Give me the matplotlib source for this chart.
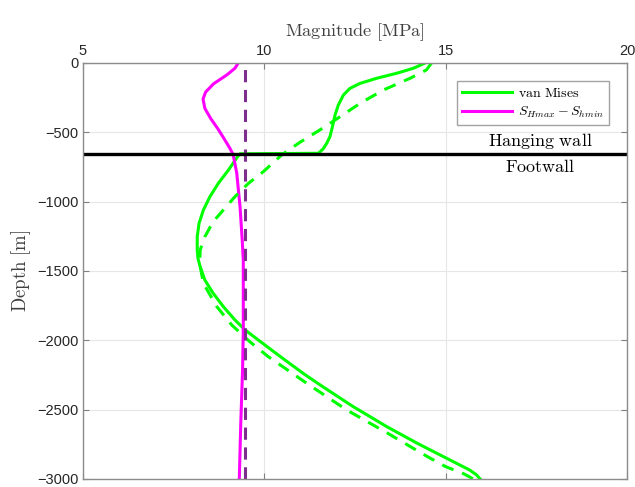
import matplotlib.pyplot as plt
import numpy as np

plt.rcParams['mathtext.fontset'] = 'cm'
plt.rcParams['font.family'] = ['Liberation Sans', 'DejaVu Sans']

# van Mises, solid (with the jump at the interface)
vm_depth = [0, -38, -74, -110, -147, -183, -231, -303, -375, -435, -531, -579, -620, -651,
            -655, -676, -772, -868, -964, -1060, -1156, -1253, -1349, -1408,
            -1469, -1565, -1661, -1757, -1853, -1925, -1997, -2070, -2142,
            -2240, -2329, -2478, -2623, -2743, -2863, -2935, -2970, -3000]
vm_mag = [14.43, 14.11, 13.65, 13.10, 12.64, 12.36, 12.18, 12.04, 11.95, 11.90, 11.81, 11.72, 11.62, 11.49,
          9.33, 9.26, 9.01, 8.73, 8.50, 8.32, 8.20, 8.15, 8.15, 8.17,
          8.23, 8.36, 8.59, 8.87, 9.19, 9.47, 9.83, 10.20, 10.57,
          11.08, 11.58, 12.45, 13.38, 14.22, 15.12, 15.66, 15.85, 15.95]

# van Mises, dashed
vm2_depth = [0, -50, -110, -195, -291, -387, -483, -572, -663, -784, -868,
             -964, -1060, -1144, -1253, -1349, -1450, -1589, -1757, -1889,
             -2010, -2118, -2310, -2502, -2670, -2839, -2911, -2960, -2985, -3000]
vm2_mag = [14.61, 14.47, 14.02, 13.28, 12.64, 12.09, 11.53, 10.98, 10.48, 9.97, 9.56,
           9.19, 8.87, 8.59, 8.36, 8.23, 8.22, 8.32, 8.69, 9.10,
           9.60, 10.11, 11.17, 12.27, 13.40, 14.50, 15.00, 15.48, 15.66, 15.76]

# SHmax - Shmin
ds_depth = [0, -38, -87, -150, -210, -260, -327, -400, -475, -550, -615, -660,
            -795, -1036, -1276, -1421, -1650, -1925, -2214, -2600, -3000]
ds_mag = [9.28, 9.19, 8.96, 8.60, 8.38, 8.31, 8.36, 8.52, 8.72, 8.90, 9.05, 9.14,
          9.24, 9.33, 9.39, 9.42, 9.42, 9.42, 9.40, 9.35, 9.31]

ds_const = 9.47
interface = -658

fig = plt.figure(figsize=(6.35, 4.87), dpi=100)
ax = fig.add_axes([83/635, 1-479/487, 544/635, 416/487])

ax.plot(vm_mag, vm_depth, color='#00ff00', lw=2.2, label=r'$\mathrm{van\ Mises}$')
ax.plot(ds_mag, ds_depth, color='#ff00ff', lw=2.2, label=r'$S_{Hmax}-S_{hmin}$')
ax.plot(vm2_mag, vm2_depth, color='#00ff00', lw=2.2, ls=(0, (4, 3)))
ax.axvline(ds_const, color='#7e2f8e', lw=2.2, ls=(0, (4, 2.5)))
ax.axhline(interface, color='black', lw=2.4)

ax.text(17.6, -562, r'$\mathrm{Hanging\ wall}$', ha='center', va='center', fontsize=13)
ax.text(17.6, -752, r'$\mathrm{Footwall}$', ha='center', va='center', fontsize=13)

ax.set_xlim(5, 20)
ax.set_ylim(-3000, 0)
ax.set_xticks([5, 10, 15, 20])
ax.set_yticks(np.arange(-3000, 1, 500))
ax.xaxis.tick_top()
ax.xaxis.set_label_position('top')
ax.set_xlabel(r'$\mathrm{Magnitude\ [MPa]}$', fontsize=13.2, labelpad=6, color='#404040')
ax.set_ylabel(r'$\mathrm{Depth\ [m]}$', fontsize=13.5, labelpad=3, color='#404040')
ax.tick_params(direction='in', labelsize=10.5, labelcolor='#262626', color='#808080',
               length=4, top=True, bottom=True, left=True, right=True)
ax.grid(True, color='#e6e6e6', lw=0.8)
ax.set_axisbelow(True)
for s in ax.spines.values():
    s.set_color('#8c8c8c')
    s.set_linewidth(1.0)

leg = ax.legend(loc='upper right', bbox_to_anchor=(0.98, 0.974), fontsize=10,
                frameon=True, fancybox=False, edgecolor='#8c8c8c',
                handlelength=3.6, borderpad=0.4, labelspacing=0.3, handletextpad=0.4)
leg.get_frame().set_linewidth(1.0)

fig.savefig('out.png', dpi=100)
